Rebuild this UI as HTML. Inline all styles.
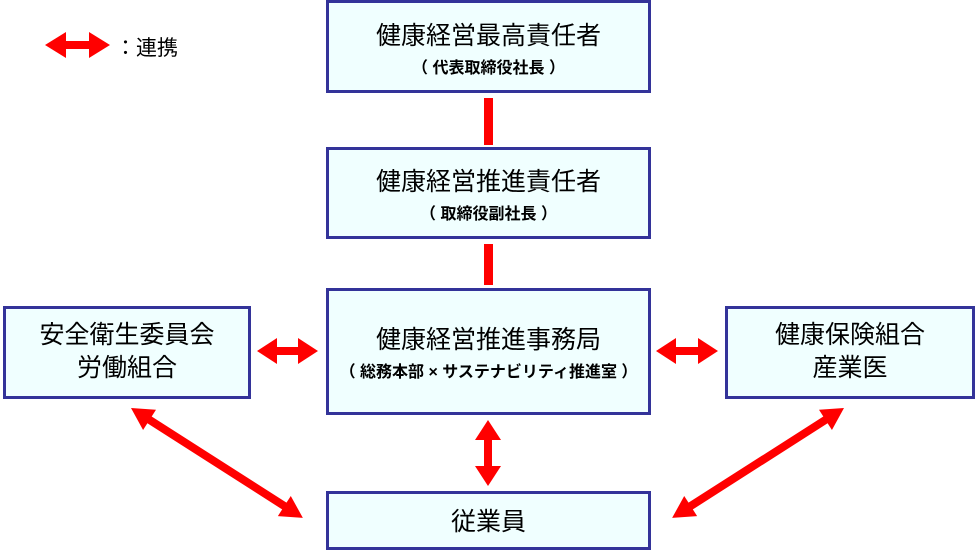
<!DOCTYPE html>
<html><head><meta charset="utf-8"><style>
body{margin:0;background:#fff;}
svg text{font-family:"Liberation Sans","Noto Sans CJK JP",sans-serif;fill:#000;}
.b{fill:#f0ffff;stroke:#333399;stroke-width:3;}
.t{font-size:25px;}
.s{font-size:16px;font-weight:bold;}
</style></head><body>
<svg width="976" height="551" xmlns="http://www.w3.org/2000/svg">
<rect class="b" x="327.5" y="1.5" width="322" height="90"/>
<rect class="b" x="327.5" y="148.5" width="322" height="89"/>
<rect class="b" x="327.5" y="289.5" width="322" height="124"/>
<rect class="b" x="4.5" y="307.5" width="245" height="90"/>
<rect class="b" x="726.5" y="307.5" width="247" height="90"/>
<rect class="b" x="327.5" y="492.5" width="322" height="56"/>
<rect x="484" y="98" width="9" height="47" fill="#ff0000"/>
<rect x="484" y="244" width="9" height="41" fill="#ff0000"/>
<g fill="#ff0000">
<g transform="translate(45,45)"><polygon points="0,0 21,-13 21,-4 44,-4 44,-13 65,0 44,13 44,4 21,4 21,13"/></g>
<g transform="translate(257,351)"><polygon points="0,0 20,-13 20,-4 41,-4 41,-13 61,0 41,13 41,4 20,4 20,13"/></g>
<g transform="translate(656,351)"><polygon points="0,0 20,-13 20,-4 42,-4 42,-13 62,0 42,13 42,4 20,4 20,13"/></g>
<g transform="translate(488,420) rotate(90)"><polygon points="0,0 20,-13 20,-4 46,-4 46,-13 66,0 46,13 46,4 20,4 20,13"/></g>
<g transform="translate(131,408) rotate(32.6)"><polygon points="0,0 22,-12 22,-4 182,-4 182,-12 204,0 182,12 182,4 22,4 22,12"/></g>
<g transform="translate(844,408) rotate(147.4)"><polygon points="0,0 22,-12 22,-4 182,-4 182,-12 204,0 182,12 182,4 22,4 22,12"/></g>
</g>
<text x="115" y="55" font-size="21">：連携</text>
<text class="t" x="488.5" y="44" text-anchor="middle">健康経営最高責任者</text>
<text class="s" x="488.5" y="73" text-anchor="middle">（ 代表取締役社長 ）</text>
<text class="t" x="488.5" y="190" text-anchor="middle">健康経営推進責任者</text>
<text class="s" x="488.5" y="219" text-anchor="middle">（ 取締役副社長 ）</text>
<text class="t" x="488.5" y="348" text-anchor="middle">健康経営推進事務局</text>
<text class="s" x="488.5" y="377" text-anchor="middle">（ 総務本部 × サステナビリティ推進室 ）</text>
<text class="t" x="127" y="343" text-anchor="middle">安全衛生委員会</text>
<text class="t" x="127" y="376" text-anchor="middle">労働組合</text>
<text class="t" x="850" y="343" text-anchor="middle">健康保険組合</text>
<text class="t" x="850" y="376" text-anchor="middle">産業医</text>
<text class="t" x="488.5" y="530" text-anchor="middle">従業員</text>
</svg>
</body></html>
